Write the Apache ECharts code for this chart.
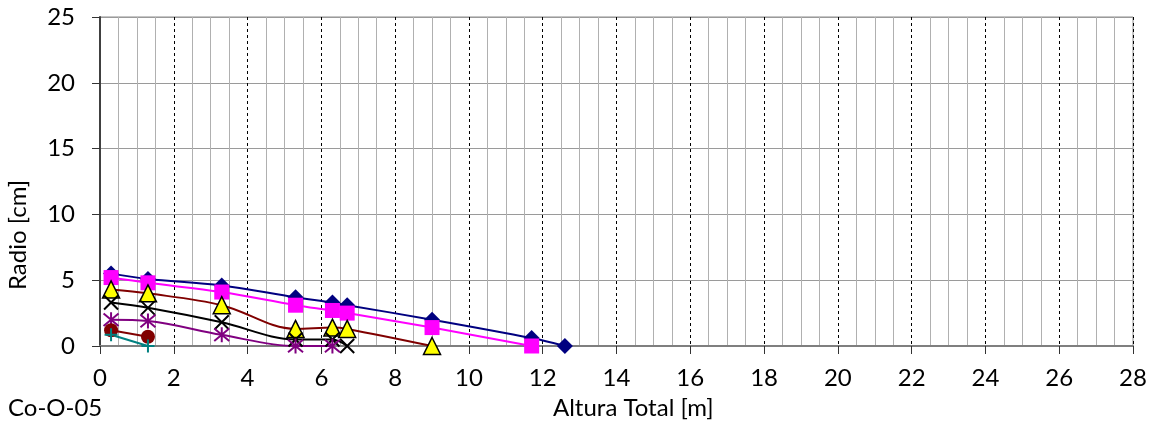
<!DOCTYPE html>
<html>
<head>
<meta charset="utf-8">
<script src="https://cdn.jsdelivr.net/npm/echarts@6/dist/echarts.min.js"></script>
<style>
  html, body { margin: 0; padding: 0; background: #fff; }
  #chart { width: 1161px; height: 428px; }
</style>
</head>
<body>
<div id="chart"></div>
<script>
// Stem radius profile along total height, one series per stem section
const altura = [0.3, 1.3, 3.3, 5.3, 6.3, 6.7, 9.0, 11.7, 12.6];

const radioA = [5.5, 5.1, 4.6, 3.7, 3.3, 3.1, 2.0, 0.6, 0];
const radioB = [5.2, 4.8, 4.1, 3.1, 2.7, 2.5, 1.4, 0];
const radioC = [4.3, 4.0, 3.1, 1.3, 1.4, 1.3, 0];
const radioD = [3.3, 2.9, 1.8, 0.5, 0.5, 0];
const radioE = [2.0, 1.9, 0.85, 0, 0];
const radioF = [1.2, 0.7];
const radioG = [0.85, 0];

const xTicks = [0, 28, 2];
const yTicks = [0, 25, 5];

const FONT = 'Lato';
const FS = 24;

function pairs(vals) {
  return vals.map((v, i) => [altura[i], v]);
}

const X_PATH = 'path://M0,0L10,10M10,0L0,10';
const STAR_PATH = 'path://M0,0L10,10M10,0L0,10M5,-1L5,11';
const PLUS_PATH = 'path://M5,0L5,10M0,5L10,5';

function lineSeries(vals, lineColor, symbol, size, fill, border, bw) {
  return {
    type: 'line',
    data: pairs(vals),
    smooth: 0.35,
    symbol: symbol,
    symbolSize: size,
    showAllSymbol: true,
    lineStyle: { color: lineColor, width: 2 },
    itemStyle: { color: fill, borderColor: border, borderWidth: bw },
    emphasis: { disabled: true },
    animation: false
  };
}

const chart = echarts.init(document.getElementById('chart'), null, { renderer: 'canvas' });

chart.setOption({
  backgroundColor: '#fff',
  animation: false,
  grid: {
    left: 100, right: 28, top: 17, bottom: 82,
    show: true, borderColor: '#8c8c8c', borderWidth: 1
  },
  xAxis: {
    type: 'value',
    min: xTicks[0], max: xTicks[1], interval: xTicks[2],
    axisLine: { show: true, onZero: false, lineStyle: { color: '#7f7f7f', width: 2 } },
    axisTick: { show: true, length: 8, lineStyle: { color: '#333', width: 1 } },
    axisLabel: { fontFamily: FONT, fontSize: FS, color: '#000', margin: 20 },
    splitLine: { show: true, lineStyle: { color: '#000', type: [3, 3], width: 1 } },
    minorTick: { show: false, splitNumber: 4 },
    minorSplitLine: { show: true, lineStyle: { color: '#b0b0b0', width: 1 } }
  },
  yAxis: {
    type: 'value',
    min: yTicks[0], max: yTicks[1], interval: yTicks[2],
    axisLine: { show: true, lineStyle: { color: '#404040', width: 2 } },
    axisTick: { show: true, length: 8, lineStyle: { color: '#333', width: 1 } },
    axisLabel: { fontFamily: FONT, fontSize: FS, color: '#000', margin: 25 },
    splitLine: { show: true, lineStyle: { color: '#9a9a9a', width: 1 } }
  },
  graphic: [
    {
      type: 'text', left: 553, top: 396,
      style: { text: 'Altura Total [m]', fontFamily: FONT, fontSize: FS, fill: '#000' }
    },
    {
      type: 'text', left: 8, top: 396,
      style: { text: 'Co-O-05', fontFamily: FONT, fontSize: FS, fill: '#000' }
    },
    {
      type: 'text', x: 6, y: 290, rotation: Math.PI / 2,
      style: { text: 'Radio [cm]', fontFamily: FONT, fontSize: FS, fill: '#000' }
    }
  ],
  series: [
    lineSeries(radioA, '#000080', 'diamond', 16, '#000080', '#000080', 0),
    lineSeries(radioB, '#ff00ff', 'rect', 15, '#ff00ff', '#ff00ff', 0),
    lineSeries(radioC, '#800000', 'triangle', 17, '#ffff00', '#000', 1.5),
    lineSeries(radioD, '#000', X_PATH, 14, 'rgba(0,0,0,0)', '#000', 2),
    lineSeries(radioE, '#800080', STAR_PATH, 15, 'rgba(0,0,0,0)', '#800080', 2),
    lineSeries(radioF, '#800000', 'circle', 14, '#800000', '#800000', 0),
    lineSeries(radioG, '#008080', PLUS_PATH, 13, 'rgba(0,0,0,0)', '#008080', 2)
  ]
});
</script>
</body>
</html>
